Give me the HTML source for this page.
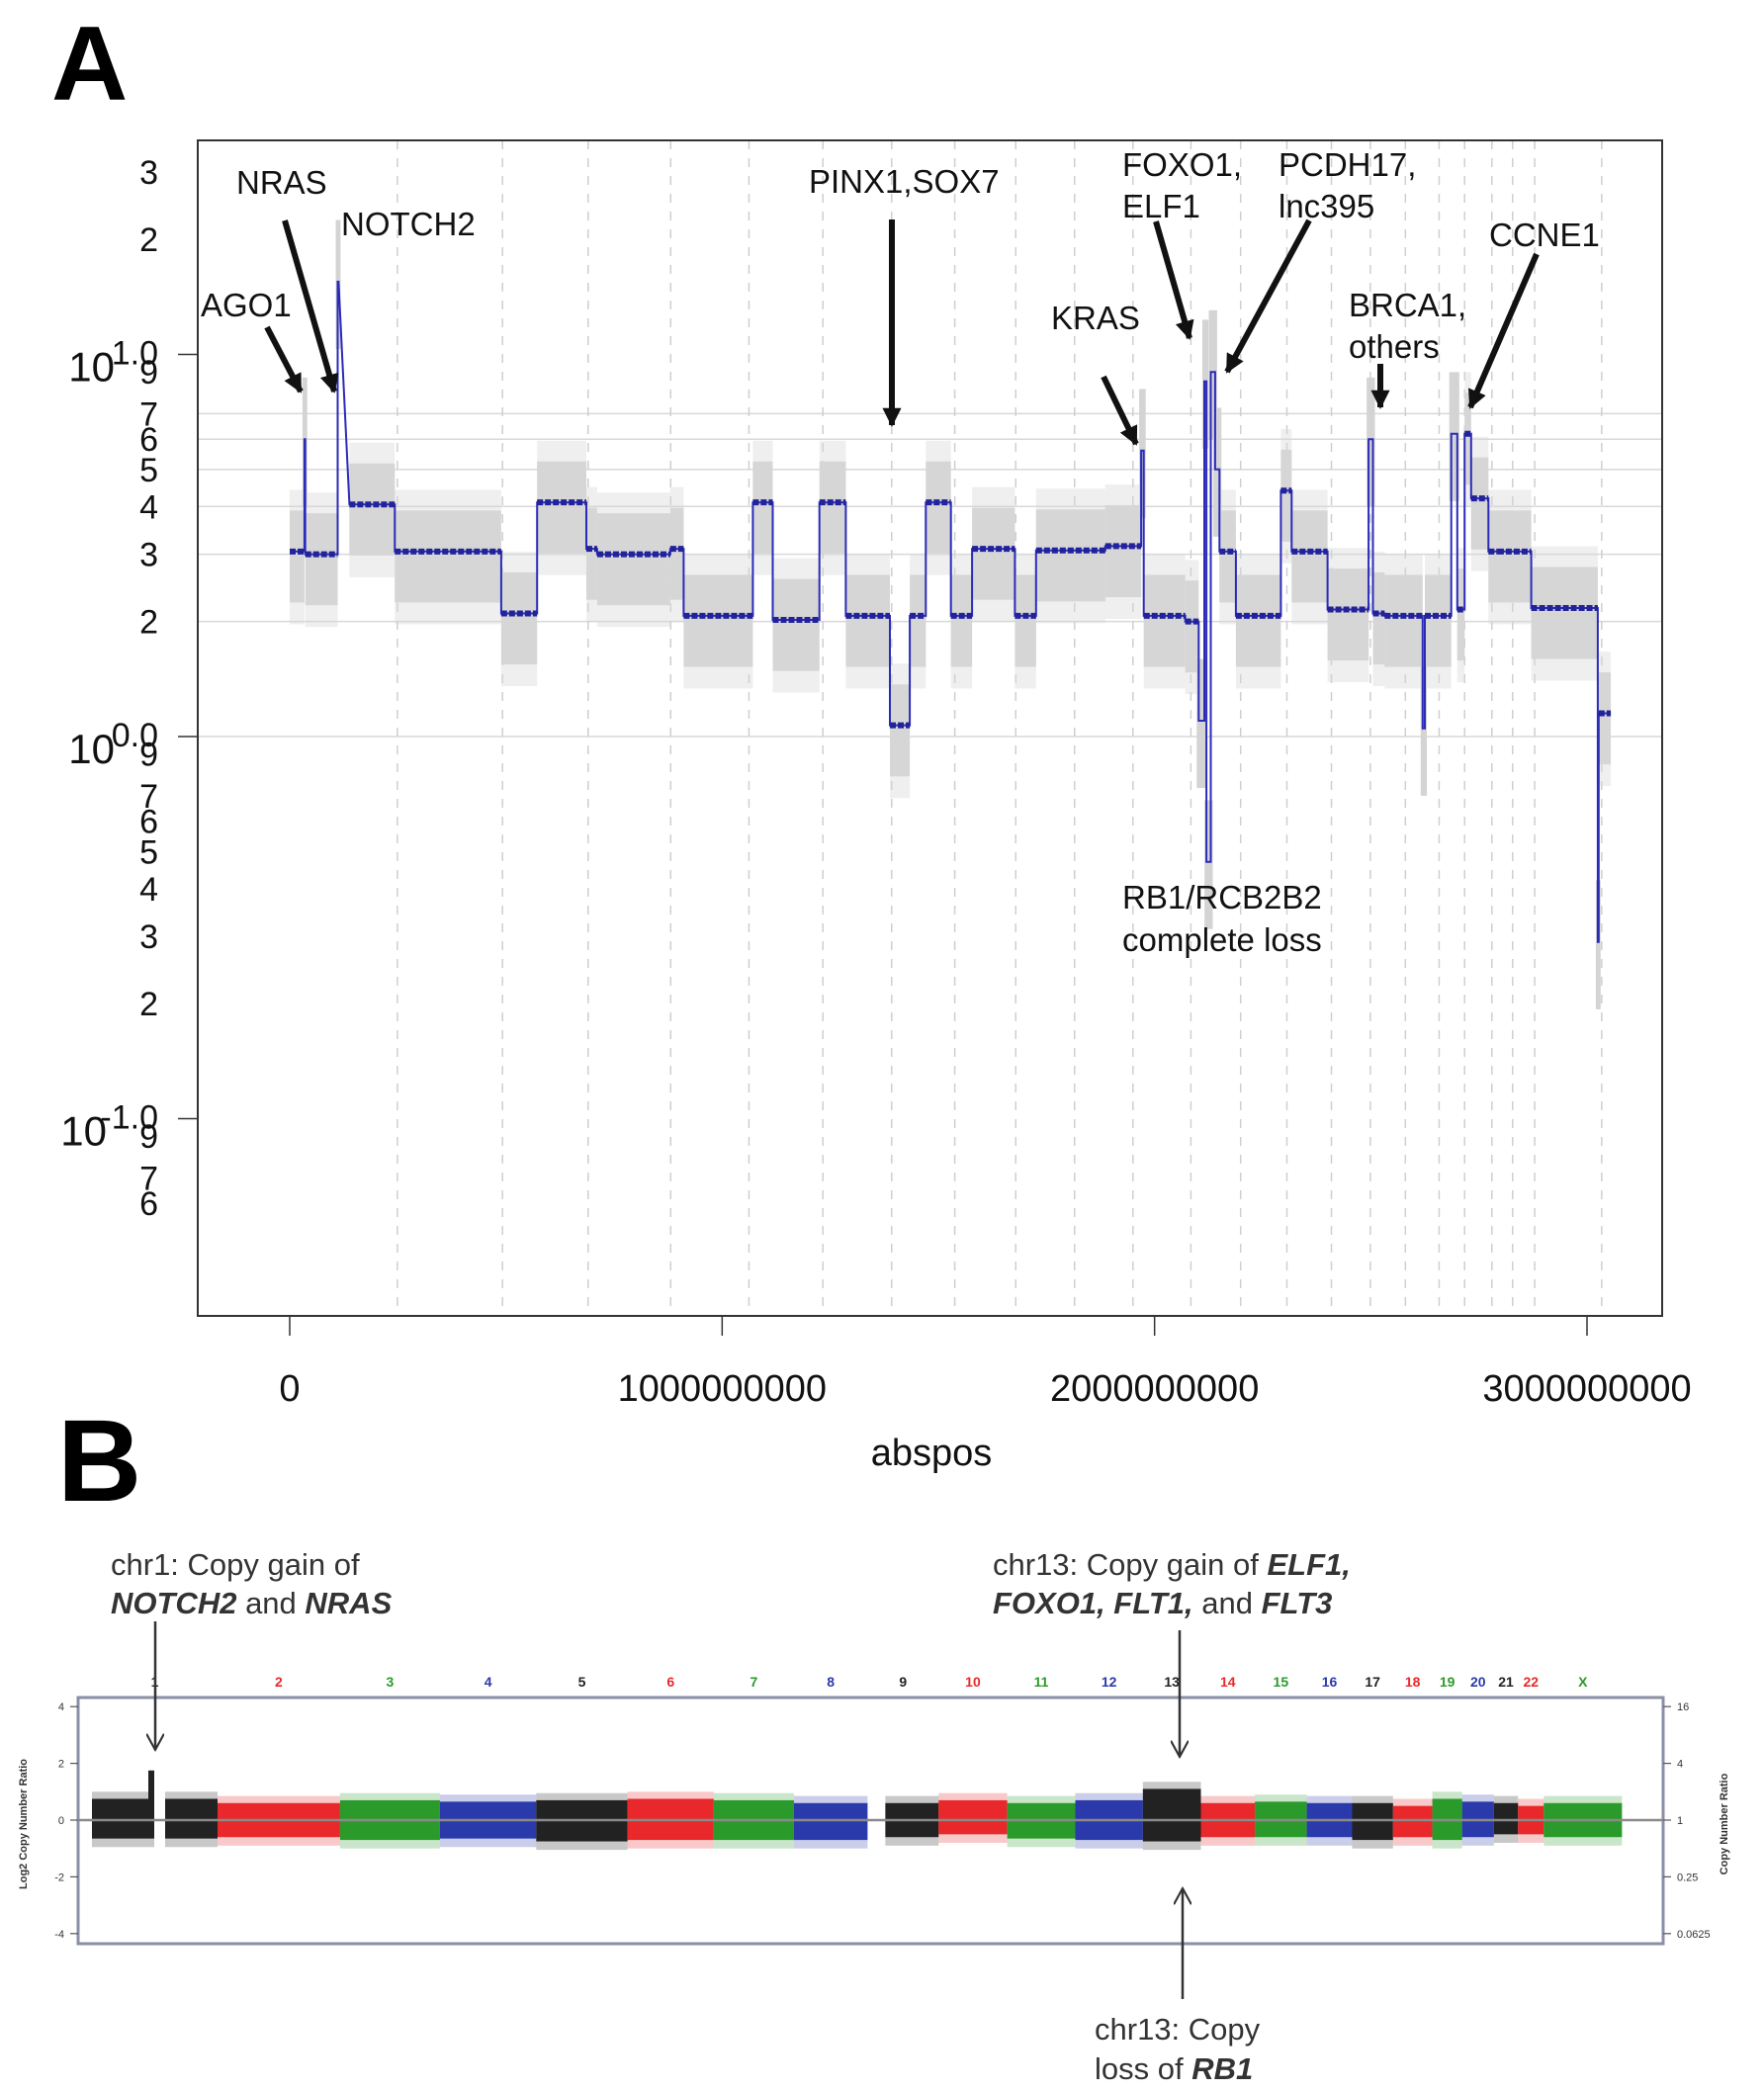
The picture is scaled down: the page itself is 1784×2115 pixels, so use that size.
<!DOCTYPE html>
<html><head><meta charset="utf-8">
<style>
html,body{margin:0;padding:0;background:#fff;}
svg{display:block;font-family:"Liberation Sans",Arial,sans-serif;}
</style></head>
<body>
<svg id="fig" width="1784" height="2115" viewBox="0 0 1784 2115" xmlns="http://www.w3.org/2000/svg">
<defs>
<marker id="ah" viewBox="0 0 10 10" refX="9" refY="5" markerWidth="3.2" markerHeight="3.2" orient="auto"><path d="M0,0 L10,5 L0,10 z" fill="#111"/></marker>
</defs>
<text x="52" y="101" font-size="107" font-weight="bold">A</text>
<text x="58" y="1518" font-size="118" font-weight="bold">B</text>
<g id="panelA"></g>
<g id="panelB"></g>
</svg>
<script>
// ---------- Panel A data ----------
const chrLengthsMb = [249,243,198,191,181,171,159,146,141,136,135,134,115,107,103,90,81,78,59,63,48,51,155];
const segStartMb = [0,34,36,111,138,243,489,572,686,711,880,911,1071,1117,1225,1286,1388,1434,1471,1529,1578,1677,1726,1886,1969,1975,2071,2102,2115,2120,2130,2140,2150,2188,2292,2317,2400,2495,2505,2532,2620,2625,2686,2700,2717,2732,2772,2794,2871,3025,3027];
const segEndMb   = [34,36,111,113,243,489,572,686,711,880,911,1071,1117,1225,1286,1388,1434,1471,1529,1578,1677,1726,1886,1969,1975,2071,2102,2115,2120,2130,2140,2150,2188,2292,2317,2400,2495,2505,2532,2620,2625,2686,2700,2717,2732,2772,2794,2871,3025,3027,3055];
const segValue   = [3.05,6.0,3.0,15.5,4.05,3.05,2.1,4.1,3.1,3.0,3.1,2.07,4.1,2.02,4.1,2.07,1.07,2.07,4.1,2.07,3.1,2.07,3.07,3.15,5.6,2.07,2.0,1.1,8.5,0.47,9.0,5.0,3.05,2.07,4.4,3.05,2.15,6.0,2.1,2.07,1.05,2.07,6.2,2.15,6.2,4.2,3.05,3.05,2.17,0.29,1.15];
const gridValues = [1,2,3,4,5,6,7];
const yTickValues = [30,20,9,7,6,5,4,3,2,0.9,0.7,0.6,0.5,0.4,0.3,0.2,0.09,0.07,0.06];
const yTickLabels = ["3","2","9","7","6","5","4","3","2","9","7","6","5","4","3","2","9","7","6"];
const decadeExps = [1,0,-1];
const xTickValues = [0,1000000000,2000000000,3000000000];
const xTickLabels = ["0","1000000000","2000000000","3000000000"];

// ---------- Panel B data ----------
const chrNames = ["1","2","3","4","5","6","7","8","9","10","11","12","13","14","15","16","17","18","19","20","21","22","X"];
const chrColors = ["#222","#e8282a","#2a9a2a","#2a3aaa","#222","#e8282a","#2a9a2a","#2a3aaa","#222","#e8282a","#2a9a2a","#2a3aaa","#222","#e8282a","#2a9a2a","#2a3aaa","#222","#e8282a","#2a9a2a","#2a3aaa","#222","#e8282a","#2a9a2a"];
const chrBLengthsMb = [249,243,198,191,181,171,159,146,141,136,135,134,115,107,103,90,81,78,59,63,48,51,155];
const chrHigh = [0.75,0.6,0.7,0.65,0.7,0.75,0.7,0.6,0.6,0.7,0.6,0.7,1.1,0.6,0.65,0.6,0.6,0.5,0.75,0.65,0.6,0.5,0.6];
const chrLow  = [-0.65,-0.6,-0.7,-0.65,-0.75,-0.7,-0.7,-0.7,-0.6,-0.5,-0.65,-0.7,-0.75,-0.6,-0.6,-0.6,-0.7,-0.6,-0.7,-0.6,-0.5,-0.5,-0.6];
const bLeftTicks = [4,2,0,-2,-4];
const bRightLabels = ["16","4","1","0.25","0.0625"];

const NS="http://www.w3.org/2000/svg";
function el(tag, attrs, parent){const e=document.createElementNS(NS,tag);for(const k in attrs)e.setAttribute(k,attrs[k]);parent.appendChild(e);return e;}

// ===== Panel A =====
const A=document.getElementById('panelA');
const AL=200,AR=1681,AT=142,AB=1331;
const xA = bp => 293 + bp/3e9*1312;
const xMb = mb => xA(mb*1e6);
const yA = v => 745 - Math.log10(v)*386.5;

gridValues.forEach(v=>{
  const l=el('line',{x1:AL,x2:AR,y1:yA(v),y2:yA(v),stroke:'#d8d8d8','stroke-width':1.5},A);
  
  
});
let cum=0;
chrLengthsMb.forEach((len,i)=>{
  cum+=len;
  const l=el('line',{x1:xMb(cum),x2:xMb(cum),y1:AT,y2:AB,stroke:'#cfcfcf','stroke-width':1.5,'stroke-dasharray':'9 9'},A);
  
  
});
segStartMb.forEach((s,i)=>{
  const e=segEndMb[i], v=segValue[i];
  if(e-s<15) {
    const r=el('rect',{x:xMb(s)-2,y:yA(v*1.45),width:Math.max(4,xMb(e)-xMb(s)+4),height:yA(v/1.5)-yA(v*1.45),fill:'#d4d4d4'},A);
    
    
    return;
  }
  const r=el('rect',{x:xMb(s),y:yA(v*1.28),width:xMb(e)-xMb(s),height:yA(v/1.36)-yA(v*1.28),fill:'#d6d6d6'},A);
  
  
  const r2=el('rect',{x:xMb(s),y:yA(v*1.45),width:xMb(e)-xMb(s),height:yA(v/1.55)-yA(v*1.45),fill:'#d6d6d6',opacity:0.4},A);
  
  
});
let d='';
segStartMb.forEach((s,i)=>{
  const y=yA(segValue[i]);
  d += (i===0?'M':'L')+xMb(s).toFixed(1)+','+y.toFixed(1)+' L'+xMb(segEndMb[i]).toFixed(1)+','+y.toFixed(1)+' ';
});
const segLine=el('path',{d:d,fill:'none',stroke:'#2b2bb8','stroke-width':2},A);


segStartMb.forEach((s,i)=>{
  if(segEndMb[i]-s<15) return;
  const y=yA(segValue[i]);
  const b=el('line',{x1:xMb(s),x2:xMb(segEndMb[i]),y1:y,y2:y,stroke:'#22229a','stroke-width':6,'stroke-dasharray':'6 2'},A);
  
  
});
const fr=el('rect',{x:AL,y:AT,width:AR-AL,height:AB-AT,fill:'none',stroke:'#333','stroke-width':2},A);


yTickValues.forEach((v,i)=>{
  const t=el('text',{x:160,y:yA(v)+12,'font-size':34,'text-anchor':'end',fill:'#111'},A);
  t.textContent=yTickLabels[i];
  
  
});
decadeExps.forEach(ex=>{
  const y=yA(Math.pow(10,ex));
  const tk=el('line',{x1:180,x2:200,y1:y,y2:y,stroke:'#333','stroke-width':1.5},A);
  
  
  const t=el('text',{x:160,y:y+10,'font-size':34,'text-anchor':'end',fill:'#111'},A);
  t.textContent=ex.toFixed(1);
  
  
  const b=el('text',{x:ex<0?108:116,y:y+27,'font-size':42,'text-anchor':'end',fill:'#111'},A);
  b.textContent='10';
  
  
});
xTickValues.forEach((v,i)=>{
  const tk=el('line',{x1:xA(v),x2:xA(v),y1:AB,y2:AB+20,stroke:'#333','stroke-width':1.5},A);
  
  
  const t=el('text',{x:xA(v),y:1417,'font-size':38,'text-anchor':'middle',fill:'#111'},A);
  t.textContent=xTickLabels[i];
  
  
});
const xt=el('text',{x:942,y:1482,'font-size':38,'text-anchor':'middle',fill:'#111'},A);
xt.textContent='abspos';



const annos=[["NRAS",239,196],["NOTCH2",345,238],["AGO1",203,320],["PINX1,SOX7",818,195],["FOXO1,",1135,178],["ELF1",1135,220],["PCDH17,",1293,178],["lnc395",1293,220],["CCNE1",1506,249],["KRAS",1063,333],["BRCA1,",1364,320],["others",1364,362],["RB1/RCB2B2",1135,919],["complete loss",1135,962]];
annos.forEach(a=>{
  const t=el('text',{x:a[1],y:a[2],'font-size':33,fill:'#111'},A);
  t.textContent=a[0];
  
  
});
const arrows=[[270,331,304,396],[288,223,338,396],[902,222,902,430],[1116,381,1149,449],[1169,224,1203,342],[1324,223,1241,376],[1396,368,1396,412],[1554,257,1487,412]];
arrows.forEach(a=>{
  const l=el('line',{x1:a[0],y1:a[1],x2:a[2],y2:a[3],stroke:'#111','stroke-width':6,'marker-end':'url(#ah)'},A);
  
  
});

// ===== Panel B =====
const B=document.getElementById('panelB');
const BL=79,BR=1682,BT=1717,BB=1966;
const xB = mb => 93 + mb*0.51;
const yB = l2 => 1841 - l2*28.7;
const bf=el('rect',{x:BL,y:BT,width:BR-BL,height:BB-BT,fill:'none',stroke:'#8a8fa6','stroke-width':3},B);


let c2=0;
chrBLengthsMb.forEach((len,i)=>{
  const s=c2, e=c2+len; c2=e;
  const x0=xB(s)+(i===8?18:0), x1=xB(e);
  const r=el('rect',{x:x0,y:yB(chrHigh[i]),width:x1-x0,height:yB(chrLow[i])-yB(chrHigh[i]),fill:chrColors[i]},B);
  
  
  const f=el('rect',{x:x0,y:yB(chrHigh[i]+0.25),width:x1-x0,height:yB(chrLow[i]-0.3)-yB(chrHigh[i]+0.25),fill:chrColors[i],opacity:0.25},B);
  
  
  const t=el('text',{x:(xB(s)+xB(e))/2,y:1706,'font-size':14,'font-weight':'bold','text-anchor':'middle',fill:chrColors[i]},B);
  t.textContent=chrNames[i];
  
  
});
const gap=el('rect',{x:156,y:1800,width:11,height:80,fill:'#fff'},B);


const pk=el('rect',{x:150,y:yB(1.75),width:6,height:yB(0)-yB(1.75),fill:'#222'},B);


const zl=el('line',{x1:BL,x2:BR,y1:yB(0),y2:yB(0),stroke:'#8a8a8a','stroke-width':2.5},B);


bLeftTicks.forEach((v,i)=>{
  const tl=el('line',{x1:BL-8,x2:BL,y1:yB(v),y2:yB(v),stroke:'#555','stroke-width':1.2},B);
  
  
  const t=el('text',{x:BL-14,y:yB(v)+4,'font-size':11,'text-anchor':'end',fill:'#333'},B);
  t.textContent=String(v);
  
  
  const tr=el('line',{x1:BR,x2:BR+8,y1:yB(v),y2:yB(v),stroke:'#555','stroke-width':1.2},B);
  
  
  const t2=el('text',{x:BR+14,y:yB(v)+4,'font-size':11,fill:'#333'},B);
  t2.textContent=bRightLabels[i];
  
  
});
const lt=el('text',{x:0,y:0,'font-size':11,'font-weight':'bold','text-anchor':'middle',fill:'#333',transform:'translate(27,1845) rotate(-90)'},B);
lt.textContent='Log2 Copy Number Ratio';


const rt=el('text',{x:0,y:0,'font-size':11,'font-weight':'bold','text-anchor':'middle',fill:'#333',transform:'translate(1747,1845) rotate(-90)'},B);
rt.textContent='Copy Number Ratio';


</script>
<div style="position:absolute;left:0;top:0;width:1784px;height:2115px;pointer-events:none">
<svg width="1784" height="2115" style="position:absolute;left:0;top:0">
<defs><marker id="oh2" viewBox="0 0 12 12" refX="11" refY="6" markerWidth="18" markerHeight="18" orient="auto" markerUnits="userSpaceOnUse"><path d="M0,0 L11,6 L0,12" fill="none" stroke="#333" stroke-width="1.4"/></marker></defs>
<g font-family="Liberation Sans, Arial, sans-serif" font-size="31" fill="#333">
<text x="112" y="1593">chr1: Copy gain of</text>
<text x="112" y="1632"><tspan font-weight="bold" font-style="italic">NOTCH2</tspan> and <tspan font-weight="bold" font-style="italic">NRAS</tspan></text>
<text x="1004" y="1593">chr13: Copy gain of <tspan font-weight="bold" font-style="italic">ELF1,</tspan></text>
<text x="1004" y="1632"><tspan font-weight="bold" font-style="italic">FOXO1, FLT1,</tspan> and <tspan font-weight="bold" font-style="italic">FLT3</tspan></text>
<text x="1107" y="2063">chr13: Copy</text>
<text x="1107" y="2103">loss of <tspan font-weight="bold" font-style="italic">RB1</tspan></text>
</g>
<line x1="157" y1="1640" x2="157" y2="1770" stroke="#333" stroke-width="2.5" marker-end="url(#oh2)"/>
<line x1="1193" y1="1649" x2="1193" y2="1777" stroke="#333" stroke-width="2.5" marker-end="url(#oh2)"/>
<line x1="1196" y1="2022" x2="1196" y2="1910" stroke="#333" stroke-width="2.5" marker-end="url(#oh2)"/>
</svg>
</div>
</body></html>
